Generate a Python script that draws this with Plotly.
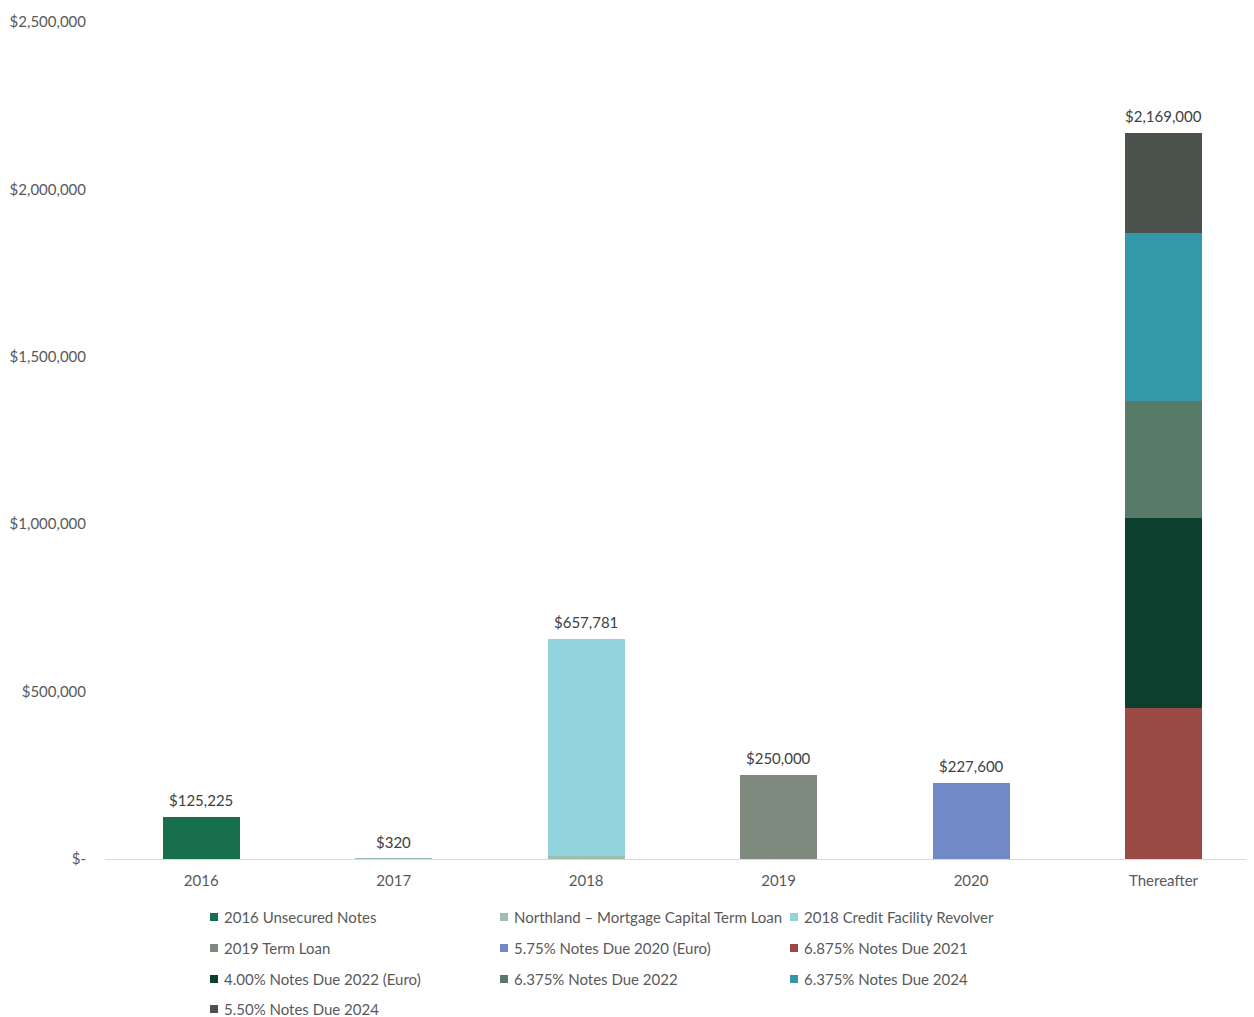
import plotly.graph_objects as go

categories = ["2016", "2017", "2018", "2019", "2020", "Thereafter"]

series_names = [
    "2016 Unsecured Notes",
    "Northland – Mortgage Capital Term Loan",
    "2018 Credit Facility Revolver",
    "2019 Term Loan",
    "5.75% Notes Due 2020 (Euro)",
    "6.875% Notes Due 2021",
    "4.00% Notes Due 2022 (Euro)",
    "6.375% Notes Due 2022",
    "6.375% Notes Due 2024",
    "5.50% Notes Due 2024",
]

unsecured_2016 = [125225, 0, 0, 0, 0, 0]
northland = [0, 320, 9000, 0, 0, 0]
revolver_2018 = [0, 0, 648781, 0, 0, 0]
term_loan_2019 = [0, 0, 0, 250000, 0, 0]
notes_575_2020 = [0, 0, 0, 0, 227600, 0]
notes_6875_2021 = [0, 0, 0, 0, 0, 450000]
notes_400_2022 = [0, 0, 0, 0, 0, 569000]
notes_6375_2022 = [0, 0, 0, 0, 0, 350000]
notes_6375_2024 = [0, 0, 0, 0, 0, 500000]
notes_550_2024 = [0, 0, 0, 0, 0, 300000]

totals = [125225, 320, 657781, 250000, 227600, 2169000]

y_tick_values = [0, 500000, 1000000, 1500000, 2000000, 2500000]
y_tick_labels = ["$-", "$500,000", "$1,000,000", "$1,500,000", "$2,000,000", "$2,500,000"]

series_values = [unsecured_2016, northland, revolver_2018, term_loan_2019, notes_575_2020,
                 notes_6875_2021, notes_400_2022, notes_6375_2022, notes_6375_2024, notes_550_2024]
colors = ["#176F4E", "#9DBFAF", "#93D3DD", "#7F8A7E", "#7189C6",
          "#9A4A44", "#0D3F2E", "#587A69", "#3399A9", "#4B524B"]

FONT = "Lato, Open Sans, sans-serif"
TXT = "#595959"

# page body has an 8px margin; the figure is sized to fill the rest of the window
OFF = 8
W = 1254 - OFF
H = 1017 - OFF
plot_left = 105 - OFF
plot_top = 22 - OFF
plot_bottom = 859 - OFF
ph = plot_bottom - plot_top
pw = W - plot_left

fig = go.Figure()
for name, vals, col in zip(series_names, series_values, colors):
    fig.add_trace(go.Bar(x=categories, y=vals, name=name, marker_color=col,
                         marker_line_width=0, showlegend=False, hoverinfo="skip"))

for i, tot in enumerate(totals):
    fig.add_annotation(x=i, y=tot, xref="x", yref="y", text="${:,.0f}".format(tot),
                       showarrow=False, yanchor="bottom", yshift=6,
                       font=dict(size=15, color="#404040", family=FONT))

# legend laid out in three columns, like the original
col_x = [210, 500, 790]
row_y = [917, 948, 979, 1009]
sq = 8
for k, (name, col) in enumerate(zip(series_names, colors)):
    cx = col_x[k % 3] - OFF
    cy = row_y[k // 3] - OFF
    x0 = (cx - plot_left) / pw
    x1 = (cx + sq - plot_left) / pw
    y0 = (plot_bottom - (cy + sq / 2)) / ph
    y1 = (plot_bottom - (cy - sq / 2)) / ph
    fig.add_shape(type="rect", xref="paper", yref="paper", x0=x0, x1=x1, y0=y0, y1=y1,
                  fillcolor=col, line_width=0)
    fig.add_annotation(xref="paper", yref="paper", x=(cx + sq + 4 - plot_left) / pw,
                       y=(plot_bottom - cy) / ph, xanchor="left", yanchor="middle",
                       text=name, showarrow=False,
                       font=dict(size=15, color=TXT, family=FONT))

fig.update_layout(
    width=W, height=H,
    margin=dict(l=plot_left, r=0, t=plot_top, b=H - plot_bottom, autoexpand=False),
    plot_bgcolor="white", paper_bgcolor="white",
    barmode="stack", bargap=0.6,
    font=dict(family=FONT, size=15, color=TXT),
    showlegend=False,
)
fig.update_xaxes(type="category", range=[-0.5, 5.47], automargin=False,
                 showgrid=False, showline=True, linecolor="#D9D9D9",
                 linewidth=1, ticks="", ticklabelstandoff=8,
                 tickfont=dict(size=15, color=TXT, family=FONT))
fig.update_yaxes(range=[0, 2500000], tickvals=y_tick_values, ticktext=y_tick_labels,
                 automargin=False, showgrid=False, zeroline=False, showline=False, ticks="",
                 ticklabelstandoff=18,
                 tickfont=dict(size=15, color=TXT, family=FONT))

fig.write_html("out.html")
